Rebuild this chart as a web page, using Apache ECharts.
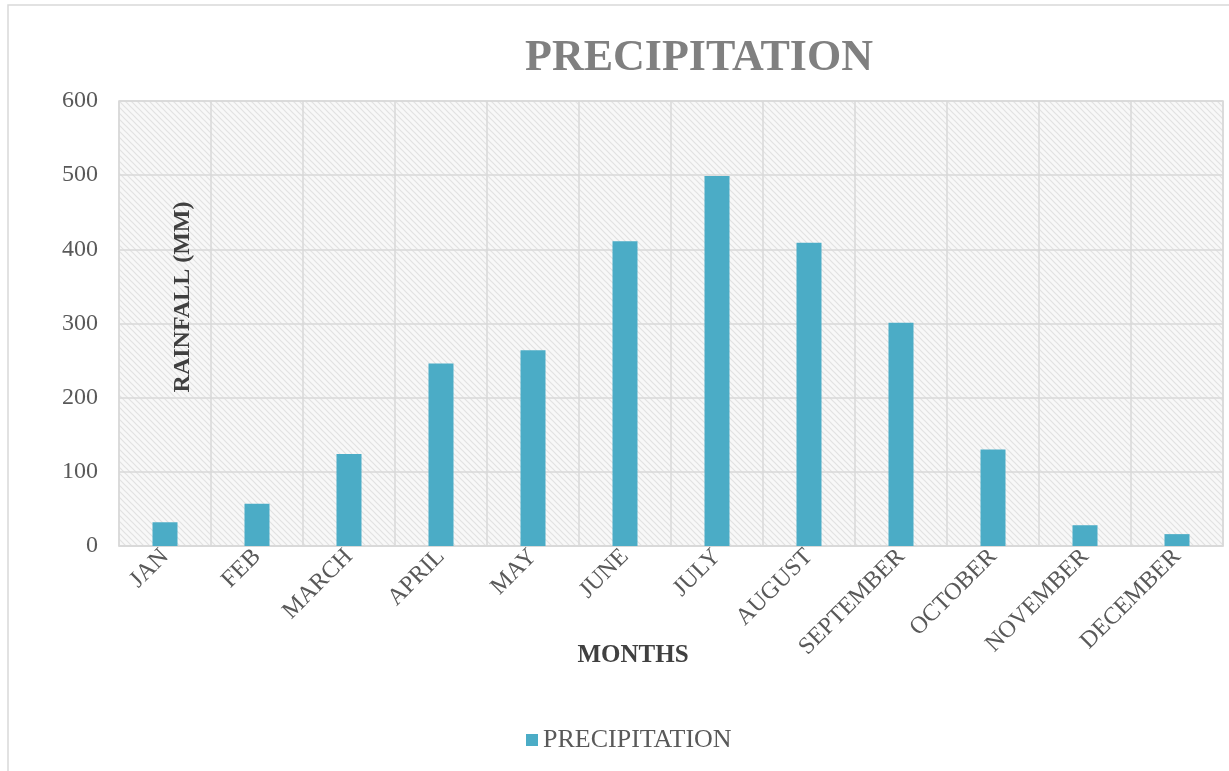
<!DOCTYPE html>
<html>
<head>
<meta charset="utf-8">
<script src="https://cdn.jsdelivr.net/npm/echarts@6/dist/echarts.min.js"></script>
<style>
html,body{margin:0;padding:0;background:#fff;}
#chart{width:1229px;height:771px;}
</style>
</head>
<body>
<div id="chart"></div>
<script>
var months = ['JAN','FEB','MARCH','APRIL','MAY','JUNE','JULY','AUGUST','SEPTEMBER','OCTOBER','NOVEMBER','DECEMBER'];
var precipitation = [32, 57, 124, 246, 264, 411, 499, 409, 301, 130, 28, 16];
var yTicks = [0, 100, 200, 300, 400, 500, 600];

var serif = "'Liberation Serif', 'Times New Roman', serif";

// hatched plot background
var tile = document.createElement('canvas');
tile.width = 6; tile.height = 6;
var tc = tile.getContext('2d');
tc.fillStyle = '#f8f8f8';
tc.fillRect(0, 0, 6, 6);
tc.strokeStyle = '#e2e2e2';
tc.lineWidth = 1.2;
tc.beginPath();
tc.moveTo(-1, -1); tc.lineTo(7, 7);
tc.moveTo(-4, 2); tc.lineTo(4, 10);
tc.moveTo(2, -4); tc.lineTo(10, 4);
tc.stroke();

var chart = echarts.init(document.getElementById('chart'));
chart.setOption({
  animation: false,
  backgroundColor: '#ffffff',
  title: {
    text: 'PRECIPITATION',
    left: 520,
    top: 32,
    textStyle: { fontFamily: serif, fontWeight: 'bold', fontSize: 44, color: '#808080' }
  },
  legend: {
    left: 521,
    top: 722,
    icon: 'rect',
    itemWidth: 12,
    itemHeight: 12,
    textStyle: { fontFamily: serif, fontSize: 26, color: '#595959' },
    data: ['PRECIPITATION']
  },
  grid: {
    left: 119, right: 6, top: 101, bottom: 225,
    show: true,
    borderColor: '#d9d9d9',
    borderWidth: 1.5,
    backgroundColor: { image: tile, repeat: 'repeat' }
  },
  xAxis: {
    type: 'category',
    data: months,
    boundaryGap: true,
    name: 'MONTHS',
    nameLocation: 'middle',
    nameGap: 97,
    nameMoveOverlap: false,
    nameTextStyle: { fontFamily: serif, fontWeight: 'bold', fontSize: 25, color: '#404040', padding: [0, 76, 0, 0] },
    axisLine: { show: true, lineStyle: { color: '#d9d9d9', width: 1.5 } },
    axisTick: { show: false },
    axisLabel: { interval: 0, rotate: 45, margin: 7, fontFamily: serif, fontSize: 24, color: '#595959' },
    splitLine: { show: true, interval: 0, lineStyle: { color: '#d9d9d9', width: 1.5 } }
  },
  yAxis: {
    type: 'value',
    min: yTicks[0],
    max: yTicks[yTicks.length - 1],
    interval: 100,
    axisLine: { show: false },
    axisTick: { show: false },
    axisLabel: { margin: 21, fontFamily: serif, fontSize: 24, color: '#595959' },
    splitLine: { show: true, lineStyle: { color: '#d9d9d9', width: 1.5 } }
  },
  graphic: [
    {
      type: 'rect',
      shape: { x: 8, y: 5, width: 1240, height: 800 },
      style: { fill: 'none', stroke: '#d9d9d9', lineWidth: 1.5 },
      silent: true,
      z: -10
    },
    {
      type: 'text',
      x: 183,
      y: 297,
      rotation: Math.PI / 2,
      z: 100,
      style: {
        text: 'RAINFALL (MM)',
        font: "bold 24px 'Liberation Serif', serif",
        fill: '#404040',
        align: 'center',
        verticalAlign: 'middle'
      }
    }
  ],
  series: [{
    name: 'PRECIPITATION',
    type: 'bar',
    data: precipitation,
    barWidth: 25,
    itemStyle: { color: '#4bacc6' }
  }]
});
</script>
</body>
</html>
